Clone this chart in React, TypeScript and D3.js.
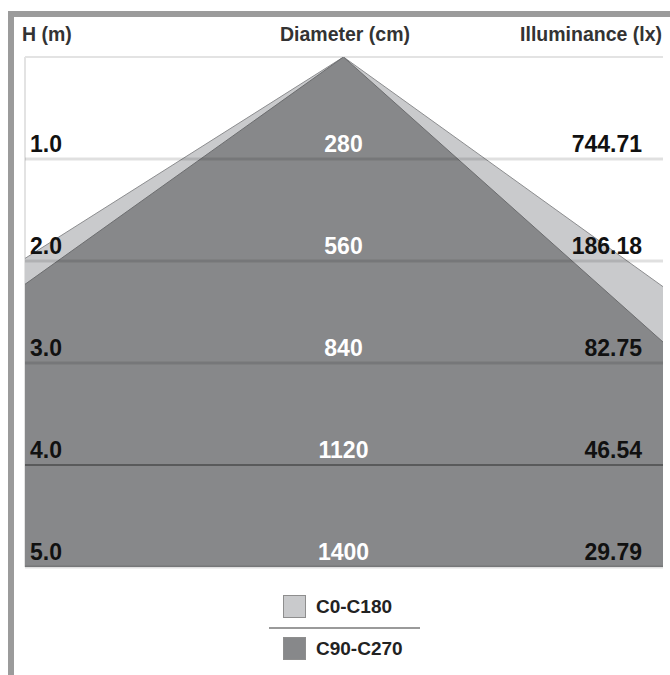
import React from 'react';
import * as d3 from 'd3';

// mounting heights (m) and the values read per row
const heights = [1, 2, 3, 4, 5];
const heightLabels = ['1.0', '2.0', '3.0', '4.0', '5.0'];
const diameters = [280, 560, 840, 1120, 1400];
const illuminance = ['744.71', '186.18', '82.75', '46.54', '29.79'];

// beam cross-sections: horizontal spread (m) per metre of height, left / right of the axis
const seriesNames = ['C0-C180', 'C90-C270'];
const spreadLeft = [1.58, 1.4];
const spreadRight = [1.39, 1.12];
const seriesFill = ['#c9cacc', '#87888a'];
const seriesStroke = ['#8c8d8f', '#6c6d6f'];

const W = 670;
const H = 675;
const plot = { left: 25, right: 663, top: 57, bottom: 567 };
const font = '"Liberation Sans", Arial, sans-serif';

const App: React.FC = () => {
  // same metres-to-pixels ratio on both axes
  const y = d3.scaleLinear().domain([0, 5]).range([plot.top, plot.bottom]);
  const x = d3.scaleLinear().domain([-3.12, 3.13]).range([plot.left, plot.right]);

  const maxH = d3.max(heights) as number;
  const cone = (i: number) => {
    const pts: [number, number][] = [
      [0, 0],
      [-spreadLeft[i] * maxH * 2, maxH * 2],
      [spreadRight[i] * maxH * 2, maxH * 2],
    ];
    return d3.line()(pts.map(([a, b]) => [x(a), y(b)] as [number, number])) + 'Z';
  };

  return (
    <svg
      width={W}
      height={H}
      style={{ position: 'absolute', left: 0, top: 0, background: '#fff' }}
      fontFamily={font}
    >
      <defs>
        <clipPath id="plotClip">
          <rect x={plot.left} y={plot.top} width={plot.right - plot.left} height={plot.bottom - plot.top} />
        </clipPath>
      </defs>

      {/* page frame */}
      <rect x={8} y={11} width={W - 8} height={6} fill="#9b9b9b" />
      <rect x={8} y={11} width={6} height={H - 11} fill="#9b9b9b" />

      {/* header */}
      <g fontSize={19.5} fontWeight={700} fill="#333">
        <text x={22} y={41}>H (m)</text>
        <text x={345} y={41} textAnchor="middle">Diameter (cm)</text>
        <text x={662} y={41} textAnchor="end">Illuminance (lx)</text>
      </g>

      {/* plot border */}
      <line x1={plot.left} x2={plot.right} y1={plot.top} y2={plot.top} stroke="#e3e3e3" strokeWidth={2} />
      <line x1={plot.left} x2={plot.left} y1={plot.top} y2={plot.bottom} stroke="#e3e3e3" strokeWidth={2} />

      {/* beam cones */}
      <g clipPath="url(#plotClip)">
        {seriesNames.map((s, i) => (
          <path key={s} d={cone(i)} fill={seriesFill[i]} stroke={seriesStroke[i]} strokeWidth={1} />
        ))}
      </g>

      {/* row lines */}
      {heights.map((h, i) => (
        <line
          key={h}
          x1={plot.left}
          x2={plot.right}
          y1={y(h)}
          y2={y(h)}
          stroke={i === 3 ? 'rgba(0,0,0,0.45)' : 'rgba(0,0,0,0.12)'}
          strokeWidth={i === 3 ? 1.5 : 3}
        />
      ))}

      {/* row labels */}
      <g fontSize={23} fontWeight={700}>
        {heights.map((h, i) => (
          <g key={h}>
            <text x={30} y={y(h) - 7} fill="#111">{heightLabels[i]}</text>
            <text x={x(0)} y={y(h) - 7} textAnchor="middle" fill="#fff">{diameters[i]}</text>
            <text x={642} y={y(h) - 7} textAnchor="end" fill="#111">{illuminance[i]}</text>
          </g>
        ))}
      </g>

      {/* legend */}
      <g fontSize={19} fontWeight={700} fill="#222">
        {seriesNames.map((s, i) => (
          <g key={s} transform={`translate(283,${595 + i * 42})`}>
            <rect x={0.5} y={0.5} width={22} height={22} fill={seriesFill[i]} stroke="#8e8e8e" />
            <text x={33} y={18}>{s}</text>
          </g>
        ))}
        <line x1={269} x2={420} y1={628} y2={628} stroke="#9a9a9a" strokeWidth={2} />
      </g>
    </svg>
  );
};

export default App;
